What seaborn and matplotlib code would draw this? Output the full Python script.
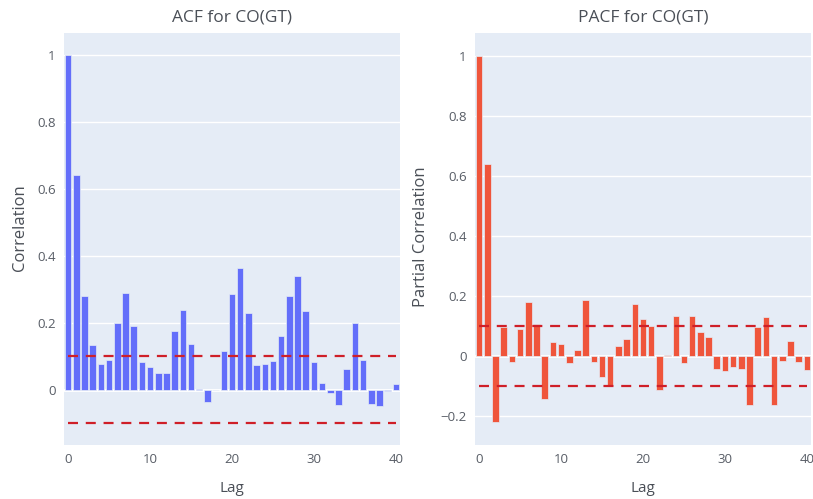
import matplotlib
matplotlib.use("Agg")
import matplotlib.pyplot as plt
import seaborn as sns
import numpy as np
import pandas as pd

# Correlation values for CO(GT), lags 0..40
lags = list(range(41))
acf_values = [
    1.0, 0.64, 0.28, 0.133, 0.078, 0.09, 0.2, 0.29, 0.19, 0.083,
    0.068, 0.05, 0.05, 0.175, 0.237, 0.137, 0.003, -0.037, -0.002, 0.116,
    0.285, 0.362, 0.23, 0.074, 0.078, 0.085, 0.16, 0.28, 0.34, 0.235,
    0.082, 0.02, -0.011, -0.045, 0.062, 0.2, 0.09, -0.042, -0.048, -0.005,
    0.017,
]
pacf_values = [
    1.0, 0.64, -0.223, 0.095, -0.02, 0.09, 0.177, 0.105, -0.146, 0.044,
    0.038, -0.024, 0.017, 0.186, -0.022, -0.07, -0.1, 0.033, 0.055, 0.173,
    0.121, 0.098, -0.114, 0.002, 0.131, -0.024, 0.131, 0.079, 0.063, -0.046,
    -0.05, -0.038, -0.046, -0.166, 0.094, 0.128, -0.166, -0.019, 0.047, -0.02,
    -0.048,
]
conf_bound = 0.1
x_ticks = [0, 10, 20, 30, 40]

acf_ticks = [0, 0.2, 0.4, 0.6, 0.8, 1]
acf_tick_labels = ["0", "0.2", "0.4", "0.6", "0.8", "1"]
pacf_ticks = [-0.2, 0, 0.2, 0.4, 0.6, 0.8, 1]
pacf_tick_labels = ["\u22120.2", "0", "0.2", "0.4", "0.6", "0.8", "1"]

sns.set_theme(style="white")
plt.rcParams["font.family"] = ["Open Sans", "DejaVu Sans"]

BG = "#E5ECF6"
TXT = "#4a4f57"
TICK_TXT = "#585d66"

fig = plt.figure(figsize=(8.13, 4.99), dpi=100)
W, H = 813, 499


def add_axes_px(x0, y0, x1, y1):
    return fig.add_axes([x0 / W, 1 - y1 / H, (x1 - x0) / W, (y1 - y0) / H])


ax1 = add_axes_px(64, 33, 400, 445)
ax2 = add_axes_px(475, 33, 811, 445)

panels = [
    (ax1, acf_values, "#636EFA", "ACF for CO(GT)", "Correlation",
     (-0.165, 1.065), acf_ticks, acf_tick_labels),
    (ax2, pacf_values, "#EF553B", "PACF for CO(GT)", "Partial Correlation",
     (-0.298, 1.075), pacf_ticks, pacf_tick_labels),
]

for ax, vals, color, title, ylabel, ylim, yt, ytl in panels:
    ax.set_facecolor(BG)
    df = pd.DataFrame({"lag": lags, "value": vals})
    sns.barplot(data=df, x="lag", y="value", native_scale=True, width=0.8,
                color=color, saturation=1, edgecolor=BG, linewidth=0.5,
                ax=ax, zorder=2)
    for yv in yt:
        ax.axhline(yv, color="white", linewidth=1.0, zorder=1)
    ax.axhline(0, color="white", linewidth=2.0, zorder=1.5)
    for bound in (conf_bound, -conf_bound):
        ax.plot([lags[0], lags[-1]], [bound, bound], color="#cf1f28",
                linewidth=1.6, dashes=(4.5, 3.5), zorder=3)
    ax.set_xlim(-0.5, 40.5)
    ax.set_ylim(*ylim)
    ax.set_xticks(x_ticks)
    ax.set_xticklabels([str(t) for t in x_ticks])
    ax.set_yticks(yt)
    ax.set_yticklabels(ytl)
    ax.tick_params(axis="both", length=0, labelsize=9.5, colors=TICK_TXT, pad=6)
    for s in ax.spines.values():
        s.set_visible(False)
    ax.set_xlabel("")
    ax.set_ylabel("")

# Titles and axis labels
fig.text(232 / W, 1 - 18 / H, "ACF for CO(GT)", ha="center", va="center",
         fontsize=12.5, color=TXT)
fig.text(643 / W, 1 - 18 / H, "PACF for CO(GT)", ha="center", va="center",
         fontsize=12.5, color=TXT)
fig.text(232 / W, 1 - 489 / H, "Lag", ha="center", va="center",
         fontsize=11, color=TXT)
fig.text(643 / W, 1 - 489 / H, "Lag", ha="center", va="center",
         fontsize=11, color=TXT)
fig.text(20 / W, 1 - 228 / H, "Correlation", ha="center", va="center",
         rotation=90, fontsize=12, color=TXT)
fig.text(421 / W, 1 - 237 / H, "Partial Correlation", ha="center", va="center",
         rotation=90, fontsize=12, color=TXT)

fig.savefig("out.png", dpi=100, facecolor="white")
